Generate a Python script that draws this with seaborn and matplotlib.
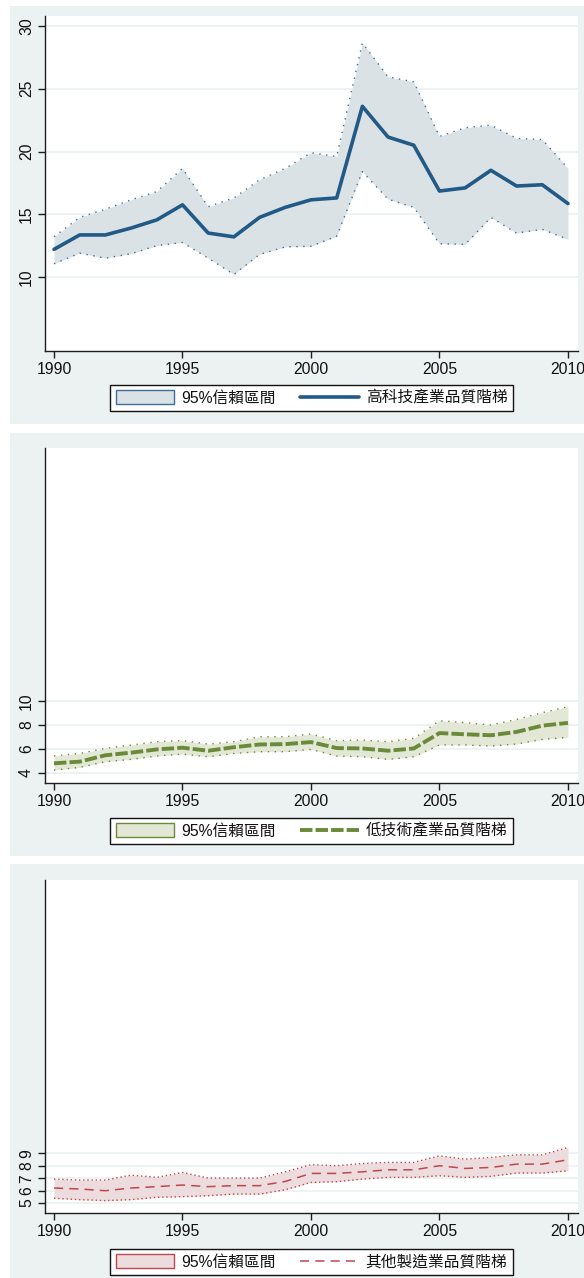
import matplotlib
matplotlib.use("Agg")
import matplotlib.pyplot as plt
from matplotlib.patches import Patch, Rectangle
from matplotlib.lines import Line2D
import pandas as pd
import seaborn as sns

# ---- data ----------------------------------------------------------------
years = list(range(1990, 2011))

hi_mean = [12.2, 13.35, 13.35, 13.9, 14.55, 15.75, 13.5, 13.2, 14.75, 15.55, 16.15,
           16.3, 23.6, 21.15, 20.5, 16.85, 17.1, 18.5, 17.25, 17.35, 15.85]
hi_upper = [13.2, 14.75, 15.4, 16.15, 16.8, 18.65, 15.6, 16.3, 17.75, 18.65, 19.9,
            19.6, 28.65, 25.95, 25.55, 21.2, 21.9, 22.1, 21.05, 20.95, 18.65]
hi_lower = [11.05, 11.9, 11.5, 11.85, 12.5, 12.75, 11.5, 10.2, 11.8, 12.4, 12.45,
            13.25, 18.4, 16.2, 15.55, 12.65, 12.6, 14.75, 13.5, 13.8, 13.0]

lo_mean = [4.78, 4.92, 5.45, 5.67, 5.94, 6.08, 5.83, 6.12, 6.35, 6.38, 6.55,
           6.05, 6.02, 5.83, 6.02, 7.3, 7.2, 7.12, 7.4, 7.92, 8.15]
lo_upper = [5.4, 5.6, 6.03, 6.3, 6.58, 6.68, 6.38, 6.58, 7.0, 7.0, 7.22,
            6.67, 6.72, 6.58, 6.86, 8.33, 8.17, 7.97, 8.44, 9.0, 9.5]
lo_lower = [4.22, 4.44, 4.92, 5.11, 5.39, 5.55, 5.33, 5.6, 5.75, 5.75, 5.94,
            5.39, 5.33, 5.11, 5.33, 6.31, 6.31, 6.22, 6.39, 6.78, 6.94]

ot_mean = [6.21, 6.13, 5.99, 6.21, 6.32, 6.45, 6.32, 6.4, 6.4, 6.74, 7.39,
           7.39, 7.52, 7.68, 7.68, 8.01, 7.79, 7.87, 8.14, 8.14, 8.49]
ot_upper = [6.93, 6.85, 6.85, 7.25, 7.07, 7.47, 7.01, 7.01, 7.01, 7.52, 8.09,
            8.01, 8.19, 8.28, 8.28, 8.81, 8.54, 8.68, 8.89, 8.89, 9.48]
ot_lower = [5.38, 5.27, 5.19, 5.27, 5.46, 5.51, 5.59, 5.72, 5.72, 6.07, 6.66,
            6.72, 6.93, 7.07, 7.07, 7.2, 7.07, 7.15, 7.42, 7.42, 7.6]

ci_label = "95%信賴區間"
series_labels = ["高科技產業品質階梯", "低技術產業品質階梯", "其他製造業品質階梯"]
x_ticks = [1990, 1995, 2000, 2005, 2010]
y_ticks = [[10, 15, 20, 25, 30], [4, 6, 8, 10], [5, 6, 7, 8, 9]]

# ---- style -----------------------------------------------------------------
sns.set_theme(style="white")
plt.rcParams["font.family"] = ["Liberation Sans", "Noto Sans CJK TC", "DejaVu Sans"]

W, H = 584, 1278
BG = "#ecf1f2"
fig = plt.figure(figsize=(W / 100, H / 100), dpi=100)
fig.patch.set_facecolor("white")


def fig_box(left, top, right, bottom):
    return [left / W, 1 - bottom / H, (right - left) / W, (bottom - top) / H]


panels = [
    dict(mean=hi_mean, upper=hi_upper, lower=hi_lower, label=series_labels[0],
         yticks=y_ticks[0], ylim=(4.10, 30.8),
         box=(45, 16, 578, 351), region=(6, 424), legend_y=398,
         color="#215987", lw=2.6, ls="-",
         fill="#dbe2e5", edge="#3d6f9a", edge_ls=(0, (1, 4))),
    dict(mean=lo_mean, upper=lo_upper, lower=lo_lower, label=series_labels[1],
         yticks=y_ticks[1], ylim=(3.14, 31.06),
         box=(45, 448, 578, 783), region=(433, 856), legend_y=831,
         color="#6a8a3a", lw=2.8, ls=(0, (3.2, 0.8)),
         fill="#e3e8d6", edge="#6a8a3a", edge_ls=(0, (1, 4))),
    dict(mean=ot_mean, upper=ot_upper, lower=ot_lower, label=series_labels[2],
         yticks=y_ticks[2], ylim=(4.19, 31.1),
         box=(45, 880, 578, 1213), region=(864, 1290), legend_y=1262,
         color="#c0464e", lw=1.1, ls=(0, (6, 4)),
         fill="#ecdcdd", edge="#c0464e", edge_ls=(0, (1, 2))),
]

for p in panels:
    top, bottom = p["region"]
    fig.add_artist(Rectangle((10 / W, 1 - bottom / H), (W - 10) / W, (bottom - top) / H,
                             transform=fig.transFigure, facecolor=BG,
                             edgecolor="none", zorder=0))

    ax = fig.add_axes(fig_box(*p["box"]))
    ax.set_facecolor("white")

    df = pd.DataFrame({"year": years, "mean": p["mean"],
                       "upper": p["upper"], "lower": p["lower"]})

    ax.fill_between(df["year"], df["lower"], df["upper"],
                    color=p["fill"], linewidth=0, zorder=2)
    for col in ("upper", "lower"):
        sns.lineplot(data=df, x="year", y=col, ax=ax, color=p["edge"],
                     linewidth=1.0, linestyle=p["edge_ls"], zorder=3)
    sns.lineplot(data=df, x="year", y="mean", ax=ax, color=p["color"],
                 linewidth=p["lw"], linestyle=p["ls"], zorder=4)

    ax.set_xlim(1989.65, 2010.39)
    ax.set_ylim(*p["ylim"])
    ax.set_xticks(x_ticks)
    ax.set_xticklabels([str(v) for v in x_ticks])
    ax.set_yticks(p["yticks"])
    ax.set_yticklabels([str(v) for v in p["yticks"]], rotation=90, va="center")
    ax.set_xlabel("")
    ax.set_ylabel("")

    ax.yaxis.grid(True, color=BG, linewidth=1.3)
    ax.xaxis.grid(False)
    ax.set_axisbelow(True)

    for side in ("top", "right"):
        ax.spines[side].set_visible(False)
    for side in ("left", "bottom"):
        ax.spines[side].set_color("#1e1e1e")
        ax.spines[side].set_linewidth(1.0)

    ax.tick_params(axis="both", direction="out", length=5, width=1.0,
                   color="#1e1e1e", labelsize=11.3, labelcolor="#111111")
    ax.tick_params(axis="x", pad=3)
    ax.tick_params(axis="y", pad=3)
    ax.tick_params(left=True, bottom=True)

    handles = [
        Patch(facecolor=p["fill"], edgecolor=p["edge"], linewidth=1.0),
        Line2D([], [], color=p["color"], linewidth=p["lw"], linestyle=p["ls"]),
    ]
    leg = ax.legend(handles, [ci_label, p["label"]], loc="center",
                    bbox_to_anchor=((112 + 511) / 2 / W, 1 - p["legend_y"] / H),
                    bbox_transform=fig.transFigure, ncol=2, frameon=True,
                    fancybox=False, framealpha=1, edgecolor="#111111",
                    facecolor="white", fontsize=11.3, handlelength=3.7,
                    handleheight=0.95, handletextpad=0.45, columnspacing=1.6,
                    borderpad=0.35, borderaxespad=0)
    leg.get_frame().set_linewidth(1.0)
    for t in leg.get_texts():
        t.set_color("#111111")

fig.savefig("out.png", dpi=100)
